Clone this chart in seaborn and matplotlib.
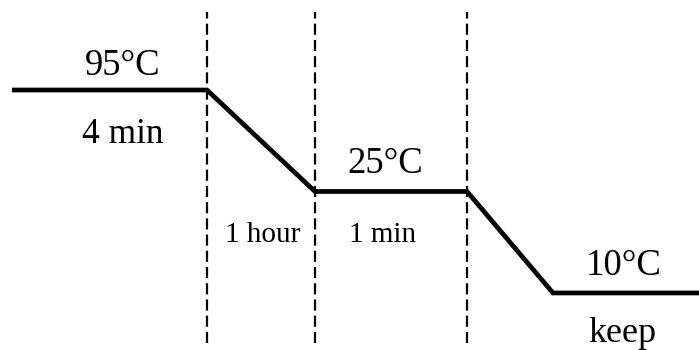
import pandas as pd
import seaborn as sns
import matplotlib.pyplot as plt

# thermal profile (schematic): time position, level (2=95C, 1=25C, 0=10C)
time_pts = [1.2, 20.7, 31.5, 46.7, 55.3, 69.9]
level = [2, 2, 1, 1, 0, 0]
step_bounds = [20.7, 31.5, 46.7]
temp_labels = ['95°C', '25°C', '10°C']
time_labels = ['4 min', '1 hour', '1 min', 'keep']

df = pd.DataFrame({'time': time_pts, 'level': level})

sns.set_style('white')
plt.rcParams['font.family'] = ['Liberation Serif', 'DejaVu Serif']
plt.rcParams['text.color'] = 'black'

fig = plt.figure(figsize=(6.99, 3.5), dpi=100)
ax = fig.add_axes([0, 0, 1, 1])

sns.lineplot(x='time', y='level', data=df, ax=ax, color='black', lw=3.4,
             sort=False, estimator=None)
ax.lines[0].set_solid_joinstyle('miter')
ax.lines[0].set_solid_capstyle('butt')

for b in step_bounds:
    ax.axvline(b, ymin=0.02, ymax=0.966, color='black', lw=1.6,
               dashes=(5.0, 2.3))

# label layout
temp_pos = [(12.25, 2.148), (38.5, 1.187), (62.4, 0.177)]
for t, (x, y) in zip(temp_labels, temp_pos):
    ax.text(x, y, t, ha='center', va='baseline', fontsize=26.5, color='black')

time_pos = [(12.25, 1.478, 25.5), (26.25, 0.507, 21), (38.25, 0.507, 21),
            (62.25, -0.483, 26)]
for t, (x, y, fs) in zip(time_labels, time_pos):
    ax.text(x, y, t, ha='center', va='baseline', fontsize=fs, color='black')

ax.set_xlim(0, 69.9)
ax.set_ylim(-0.562, 2.887)
ax.axis('off')

fig.savefig('out.png', dpi=100)
